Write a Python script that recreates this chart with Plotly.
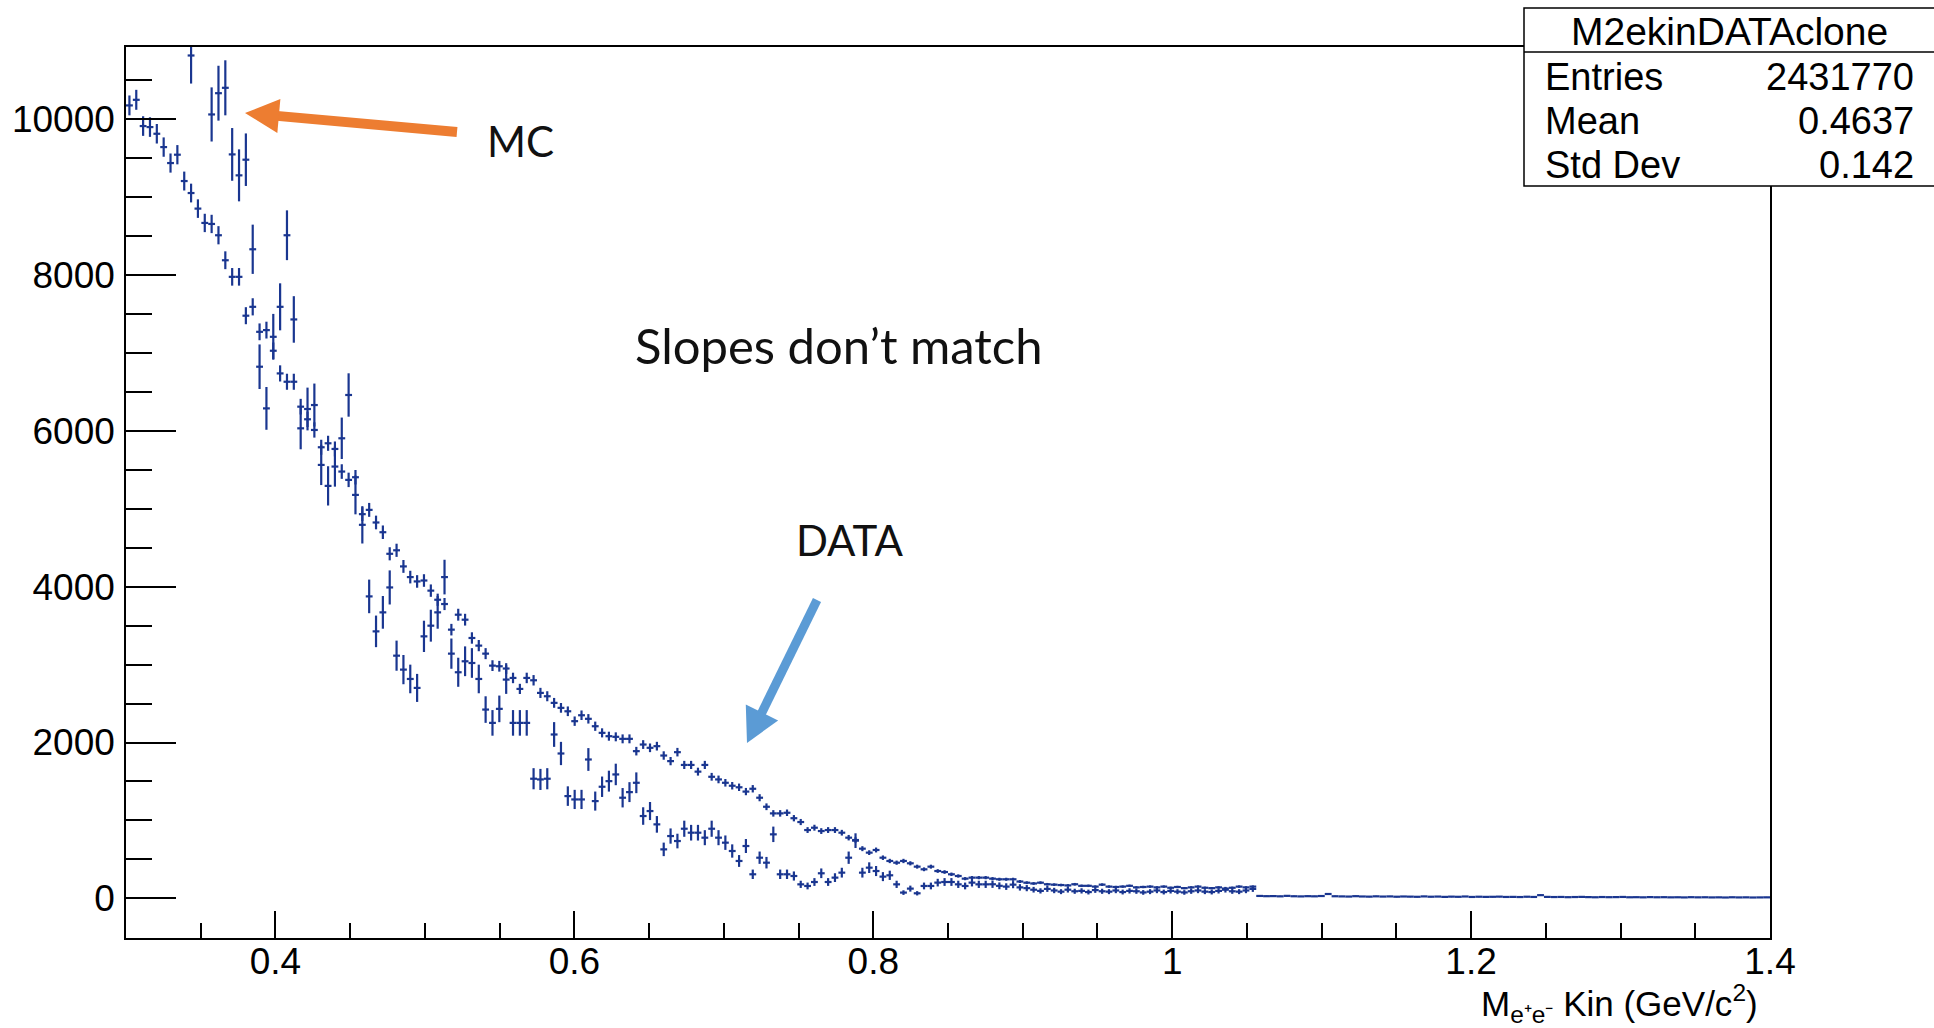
import math
import numpy as np
import plotly.graph_objects as go

# ---------------- data ----------------
X_MIN, X_MAX, N_BINS = 0.3, 1.4, 240

DATA_COUNTS = [
    10180, 10252, 9915, 9902, 9816, 9645, 9440, 9547, 9209, 9055,
    8855, 8671, 8658, 8513, 8192, 7979, 7979, 7480, 7594, 7273,
    7295, 7030, 6739, 6632, 6632, 6312, 6150, 6013, 5791, 5842,
    5769, 5479, 5372, 5406, 4932, 4987, 4825, 4700, 4423, 4468,
    4261, 4124, 4068, 4080, 3950, 3833, 3778, 3449, 3641, 3577,
    3342, 3244, 3141, 2987, 2979, 2950, 2829, 2688, 2829, 2799,
    2637, 2594, 2509, 2445, 2401, 2274, 2350, 2304, 2209, 2124,
    2081, 2073, 2047, 2047, 1889, 1974, 1932, 1953, 1833, 1761,
    1876, 1712, 1712, 1626, 1712, 1560, 1526, 1483, 1445, 1425,
    1370, 1406, 1291, 1175, 1090, 1090, 1098, 1028, 979, 876,
    906, 863, 876, 876, 842, 778, 748, 637, 586, 620,
    521, 479, 457, 479, 449, 406, 372, 406, 350, 337,
    308, 286, 252, 265, 265, 265, 252, 244, 244, 244,
    215, 200, 190, 200, 180, 175, 170, 165, 180, 160,
    160, 150, 175, 150, 145, 150, 160, 140, 145, 150,
    140, 150, 135, 145, 130, 140, 150, 135, 130, 140,
    125, 135, 150, 140, 150, 30, 27, 28, 25, 31,
    26, 24, 27, 25, 29, 55, 26, 24, 22, 27,
    23, 21, 25, 22, 24, 20, 23, 21, 19, 24,
    20, 22, 18, 21, 19, 23, 17, 20, 18, 19,
    21, 17, 18, 16, 20, 17, 40, 18, 16, 17,
    14, 16, 18, 15, 13, 16, 14, 15, 17, 13,
    14, 12, 15, 13, 14, 12, 13, 11, 14, 12,
    13, 11, 12, 10, 13, 11, 12, 10, 11, 12,
]

# None = bin above the frame (not visible) / no entries
MC_COUNTS = [
    None, None, None, None, None, None, None, None, None, 10821,
    None, None, 10064, 10337, 10406, 9551, 9282, 9483, 8333, 6825,
    6290, 7209, 7594, 8513, 7432, 6034, 6282, 6333, 5564, 5295,
    5543, 5906, 6462, 5179, 4795, 3876, 3427, 3671, 3991, 3115,
    2936, 2816, 2701, 3363, 3500, 3671, 4124, 3141, 2902, 3043,
    3021, 2816, 2423, 2252, 2432, 2808, 2252, 2252, 2252, 1535,
    1526, 1535, 2103, 1859, 1312, 1269, 1269, 1782, 1248, 1432,
    1504, 1590, 1291, 1363, 1483, 1056, 1120, 949, 628, 799,
    735, 893, 842, 842, 778, 893, 778, 714, 607, 479,
    671, 308, 521, 457, 821, 308, 308, 286, 179, 158,
    209, 321, 209, 265, 329, 521, 740, 329, 393, 350,
    278, 295, 179, 73, 124, 64, 158, 158, 201, 209,
    209, 179, 158, 201, 179, 179, 180, 160, 150, 175,
    140, 130, 110, 95, 120, 100, 85, 110, 90, 95,
    80, 105, 90, 85, 100, 80, 95, 90, 75, 85,
    100, 80, 95, 85, 75, 90, 100, 85, 80, 95,
    110, 90, 85, 100, 120,
]

DATA_WEIGHT = 1.6   # per-entry weight used for the statistical error bars
MC_WEIGHT = 12.0

X_TICK_VALUES = [0.4, 0.6, 0.8, 1.0, 1.2, 1.4]
X_TICK_LABELS = ["0.4", "0.6", "0.8", "1", "1.2", "1.4"]
Y_TICK_VALUES = [0, 2000, 4000, 6000, 8000, 10000]
Y_TICK_LABELS = ["0", "2000", "4000", "6000", "8000", "10000"]

STATS_TITLE = "M2ekinDATAclone"
STATS_ROWS = [("Entries", "2431770"), ("Mean", "0.4637"), ("Std Dev", "0.142")]

X_TITLE = "M<sub>e⁺e⁻</sub> Kin (GeV/c<sup>2</sup>)"

# ---------------- derived ----------------
edges = np.linspace(X_MIN, X_MAX, N_BINS + 1)
centers = 0.5 * (edges[:-1] + edges[1:])
half_w = 0.5 * (edges[1] - edges[0])

data_y = np.array(DATA_COUNTS, dtype=float)
data_err = np.sqrt(DATA_WEIGHT * data_y)
mc_y = np.array([np.nan if v is None else v for v in MC_COUNTS], dtype=float)
mc_err = np.sqrt(MC_WEIGHT * mc_y)

COLOR = "#1a3690"
FONT = "Liberation Sans, Arial, Helvetica, sans-serif"

W, H = 1934, 1028
PL, PR, PT, PB = 126, 1770, 47, 938


def px(x):
    return (x - PL) / (PR - PL)


def py(y):
    return (PB - y) / (PB - PT)


def hist_trace(x, y, err):
    return go.Scatter(
        x=x, y=y, mode="markers",
        marker=dict(size=1, color=COLOR),
        error_x=dict(type="constant", value=half_w, width=0, thickness=2.2, color=COLOR),
        error_y=dict(type="data", array=err, width=0, thickness=2.2, color=COLOR),
        showlegend=False, hoverinfo="x+y",
    )


fig = go.Figure()
fig.add_trace(hist_trace(centers, data_y, data_err))
fig.add_trace(hist_trace(centers[:len(mc_y)], mc_y, mc_err))

shapes = []
annotations = []


def arrow(tail, tip, head_len, head_w, shaft_w, color):
    tx, ty = tail
    hx, hy = tip
    dx, dy = hx - tx, hy - ty
    L = math.hypot(dx, dy)
    ux, uy = dx / L, dy / L
    bx, by = hx - ux * head_len, hy - uy * head_len
    nx, ny = -uy, ux
    c1 = (bx + nx * head_w / 2, by + ny * head_w / 2)
    c2 = (bx - nx * head_w / 2, by - ny * head_w / 2)
    shapes.append(dict(type="line", xref="paper", yref="paper",
                       x0=px(tx), y0=py(ty), x1=px(bx + ux * 2), y1=py(by + uy * 2),
                       line=dict(color=color, width=shaft_w)))
    shapes.append(dict(type="path", xref="paper", yref="paper",
                       path=f"M {px(hx)} {py(hy)} L {px(c1[0])} {py(c1[1])} L {px(c2[0])} {py(c2[1])} Z",
                       fillcolor=color, line=dict(color=color, width=0)))


arrow((457, 132), (245, 113), 34, 34, 10, "#ED7D31")
arrow((817, 600), (747, 743), 34, 36, 9, "#5B9BD5")

# stats box
BX0, BX1, BY0, BY1, BSEP = 1524, 1945, 8, 186, 52
shapes.append(dict(type="rect", xref="paper", yref="paper", layer="above",
                   x0=px(BX0), x1=px(BX1), y0=py(BY1), y1=py(BY0),
                   fillcolor="white", line=dict(color="black", width=1.5)))
shapes.append(dict(type="line", xref="paper", yref="paper", layer="above",
                   x0=px(BX0), x1=px(BX1), y0=py(BSEP), y1=py(BSEP),
                   line=dict(color="black", width=1.5)))

annotations.append(dict(xref="paper", yref="paper", x=px(1729), y=py(31),
                        text=STATS_TITLE, showarrow=False, xanchor="center", yanchor="middle",
                        font=dict(family=FONT, size=39, color="black")))
row_y = [77, 121, 165]
for (lab, val), yy in zip(STATS_ROWS, row_y):
    annotations.append(dict(xref="paper", yref="paper", x=px(1543), y=py(yy),
                            text=lab, showarrow=False, xanchor="left", yanchor="middle",
                            font=dict(family=FONT, size=38, color="black")))
    annotations.append(dict(xref="paper", yref="paper", x=px(1916), y=py(yy),
                            text=val, showarrow=False, xanchor="right", yanchor="middle",
                            font=dict(family=FONT, size=38, color="black")))

# axis title
annotations.append(dict(xref="paper", yref="paper", x=px(1760), y=py(1004),
                        text=X_TITLE, showarrow=False, xanchor="right", yanchor="middle",
                        font=dict(family=FONT, size=35, color="black")))

# callout texts
NOTE_FAMILY = "Lato, Open Sans, sans-serif"
annotations.append(dict(xref="paper", yref="paper", x=px(520), y=py(141), text="MC",
                        showarrow=False, xanchor="center", yanchor="middle",
                        font=dict(family=NOTE_FAMILY, size=42, color="#111111")))
annotations.append(dict(xref="paper", yref="paper", x=px(839), y=py(345), text="Slopes don’t match",
                        showarrow=False, xanchor="center", yanchor="middle",
                        font=dict(family=NOTE_FAMILY, size=49, color="#111111")))
annotations.append(dict(xref="paper", yref="paper", x=px(849), y=py(540), text="DATA",
                        showarrow=False, xanchor="center", yanchor="middle",
                        font=dict(family=NOTE_FAMILY, size=42, color="#111111")))

axis_common = dict(
    showline=True, mirror=True, linecolor="black", linewidth=1.5,
    ticks="inside", tickcolor="black", tickwidth=1.5,
    showgrid=False, zeroline=False,
    tickfont=dict(family=FONT, size=37, color="black"),
)

fig.update_layout(
    width=W, height=H, autosize=False,
    margin=dict(l=PL, r=W - PR, t=PT, b=H - PB, pad=0),
    paper_bgcolor="white", plot_bgcolor="white",
    showlegend=False,
    xaxis=dict(range=[X_MIN, X_MAX], tickvals=X_TICK_VALUES, ticktext=X_TICK_LABELS,
               ticklen=27, ticklabelstandoff=-10,
               minor=dict(dtick=0.05, tick0=0, ticks="inside", ticklen=15,
                          tickwidth=1.5, tickcolor="black", showgrid=False),
               **axis_common),
    yaxis=dict(range=[-510, 10930], tickvals=Y_TICK_VALUES, ticktext=Y_TICK_LABELS,
               ticklen=50, ticklabelstandoff=2,
               minor=dict(dtick=500, tick0=0, ticks="inside", ticklen=26,
                          tickwidth=1.5, tickcolor="black", showgrid=False),
               **axis_common),
    shapes=shapes,
    annotations=annotations,
)

fig.write_html("out.html")
